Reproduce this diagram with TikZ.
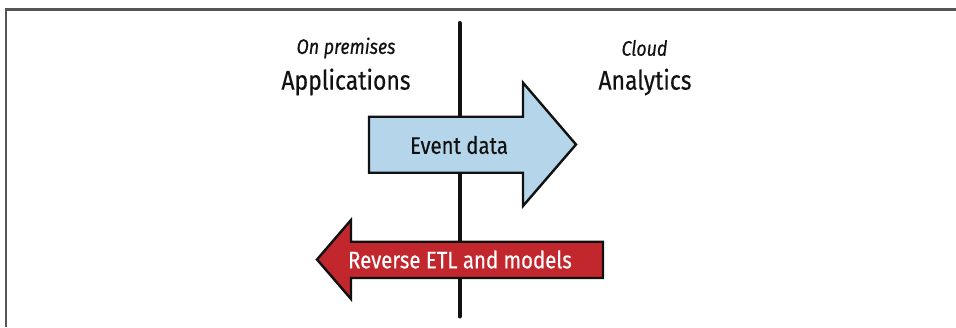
\documentclass[tikz,border=0pt]{standalone}
\usepackage{fontspec}
\setmainfont{Fira Sans}[FakeStretch=0.85,FakeBold=0.4]
\usepackage{tikz}
\usetikzlibrary{positioning,calc}
\definecolor{ink}{HTML}{111111}
\definecolor{framegray}{HTML}{555555}
\definecolor{eventblue}{HTML}{B4D5EA}
\definecolor{etlred}{HTML}{C1272D}
\tikzset{
  sidehead/.style={font=\fontsize{21}{23}\selectfont\itshape,text=ink,inner sep=0pt},
  sidename/.style={font=\fontsize{27}{30}\selectfont,text=ink,inner sep=0pt},
  flowshape/.style={draw=ink,line width=2.4pt,line join=miter},
  flowtext/.style={font=\fontsize{24}{26}\selectfont,inner sep=0pt}
}

\begin{document}
\begin{tikzpicture}[x=1pt,y=-1pt]
  \useasboundingbox (0,0) rectangle (956,327);

  % Frame
  \draw[framegray,line width=2.2pt] (956,9.5) -- (6,9.5) -- (6,327);

  % Divider
  \coordinate (divtop) at (459.5,23);
  \coordinate (divbot) at (459.5,316.5);
  \draw[ink,line width=4pt,line cap=round] (divtop) -- (divbot);

  % Side labels
  \node[sidehead] (onprem) at (346,48) {On premises};
  \node[sidename] (apps) at (346,82) {Applications};
  \node[sidehead] (cloud) at (644.5,48) {Cloud};
  \node[sidename] (analytics) at (645,82) {Analytics};

  % Event data arrow
  \draw[flowshape,fill=eventblue]
    (369,116.7) -- (523,116.7) -- (523,82.7) -- (576,144.5)
    -- (523,206) -- (523,172.7) -- (369,172.7) -- cycle;
  \node[flowtext,text=ink] (event) at (459,145) {Event data};

  % Reverse ETL arrow
  \draw[flowshape,fill=etlred]
    (603,241.7) -- (351,241.7) -- (351,220) -- (317,259.5)
    -- (351,299) -- (351,278) -- (603,278) -- cycle;
  \node[flowtext,text=white] (retl) at (460,259.5) {Reverse ETL and models};
\end{tikzpicture}
\end{document}
